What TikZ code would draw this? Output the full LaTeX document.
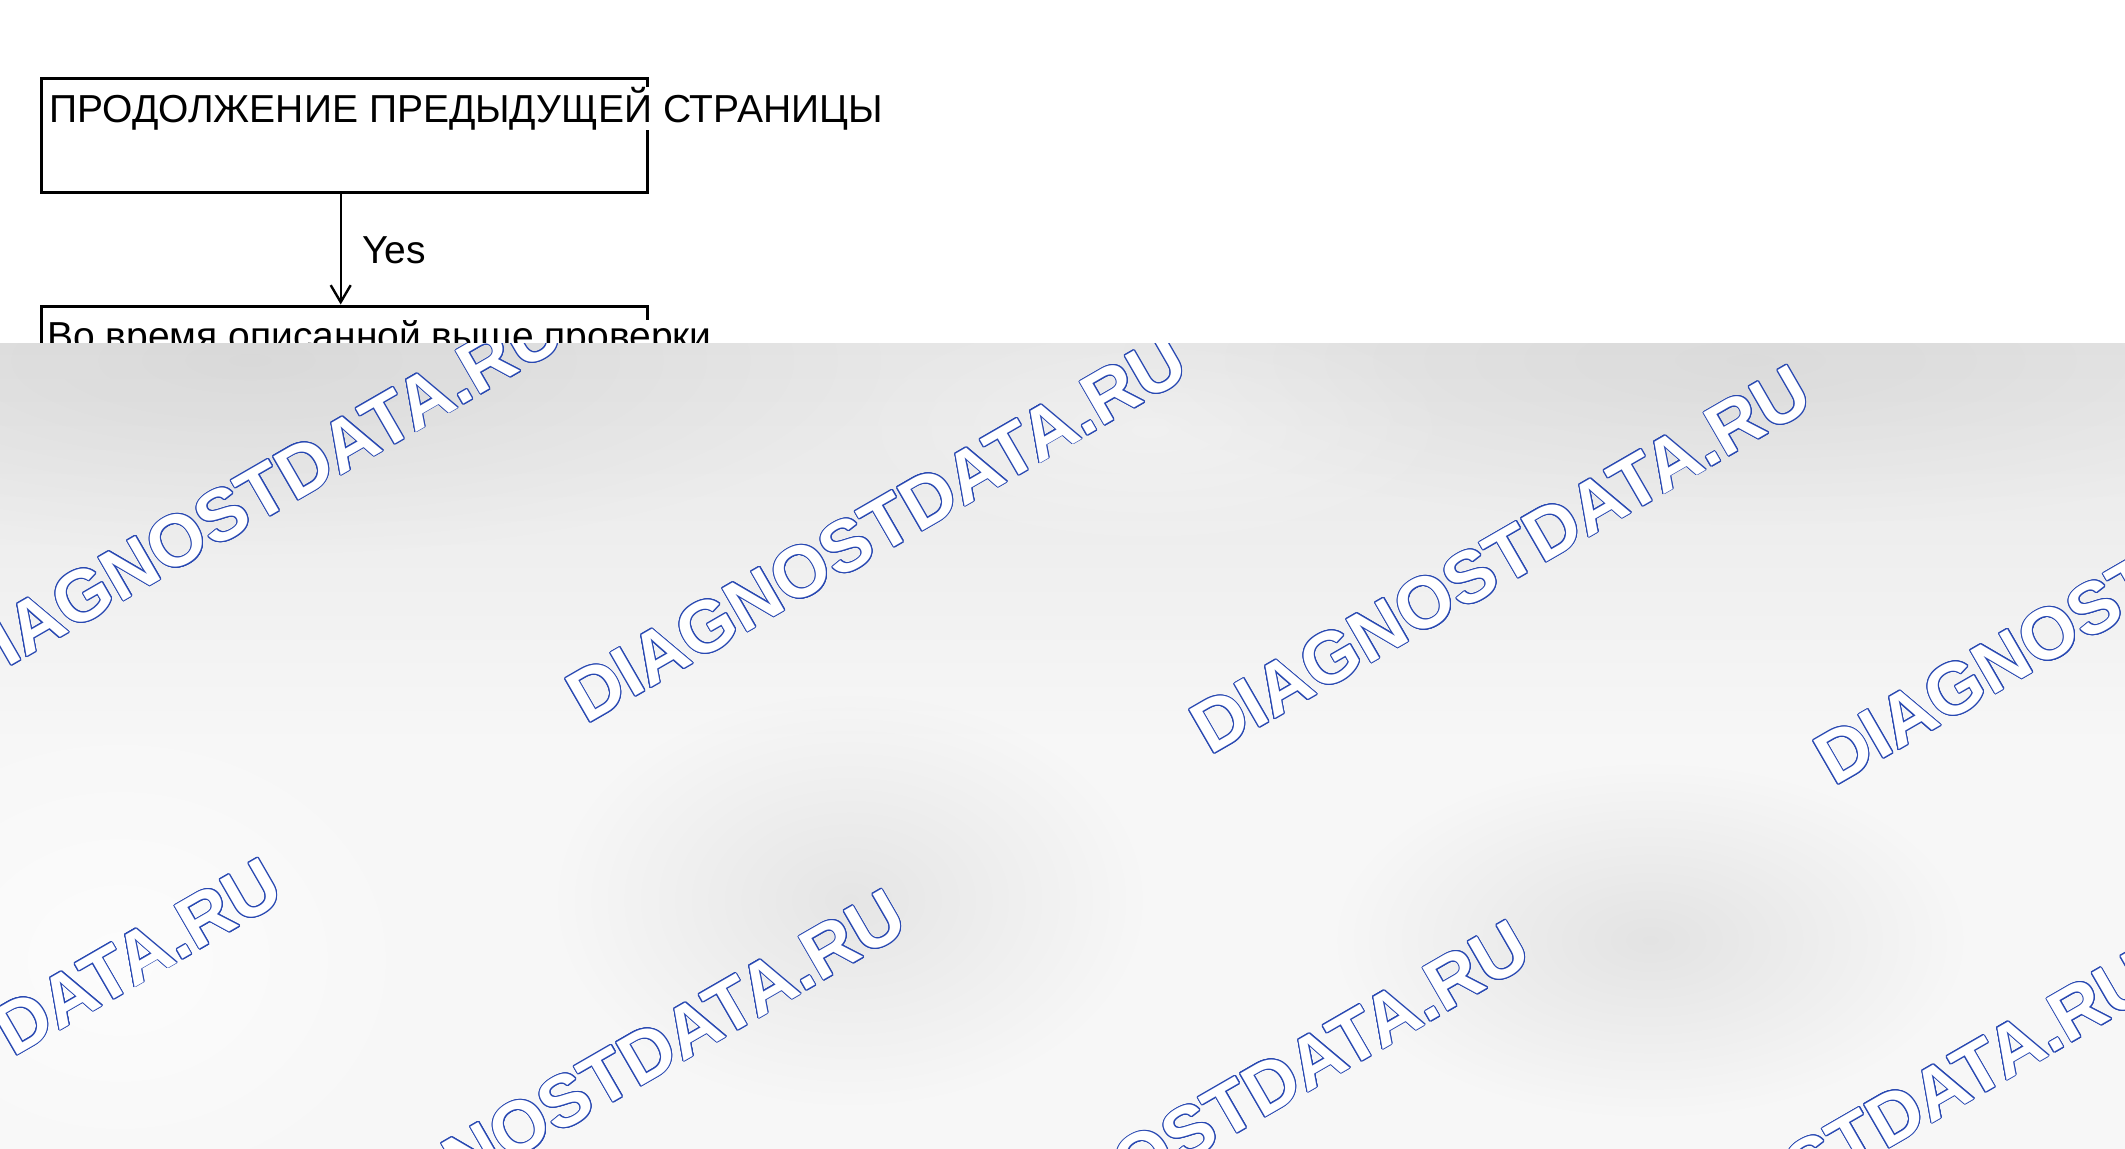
\documentclass[tikz,border=0pt]{standalone}
\usepackage{fontspec}
\setmainfont{Liberation Sans}
\usetikzlibrary{arrows.meta,fadings}
\definecolor{wmblue}{RGB}{40,72,178}
\definecolor{bgtop}{RGB}{213,213,213}
\definecolor{bgmid}{RGB}{228,228,228}
\definecolor{bgbot}{RGB}{247,247,247}
\pgfdeclareverticalshading{bgshade}{100bp}{color(0bp)=(bgbot); color(50bp)=(bgbot); color(78bp)=(bgmid); color(100bp)=(bgtop)}
\tikzfading[name=softblob, inner color=transparent!0, outer color=transparent!100]
\newcommand\wmark[2]{%
  \foreach \a in {0,22.5,...,337.5}
    \node[wmst, text=wmblue, shift={(\a:1.0)}] at (#1,#2) {DIAGNOSTDATA.RU};
  \node[wmst, text=white] at (#1,#2) {DIAGNOSTDATA.RU};
}
\begin{document}
\begin{tikzpicture}[x=0.5pt,y=-0.5pt,
  boxst/.style={draw=black, line width=1.5pt, inner sep=0pt},
  txtst/.style={anchor=base west, inner sep=0pt, fill=white, font=\fontsize{19.5pt}{23pt}\selectfont},
  wmst/.style={anchor=base west, rotate=30, inner sep=0pt, font=\fontsize{36.3pt}{37pt}\selectfont\bfseries},
  arr/.style={line width=1.2pt, -{Straight Barb[length=8.5pt,width=10pt,line width=1.2pt]}}]
\useasboundingbox (0,0) rectangle (2125,1148);
\fill[white] (0,0) rectangle (2125,1148);
% boxes
\node[boxst, minimum width=302.9pt, minimum height=57.35pt] (b1) at (344.6,135.35) {};
\node[boxst, minimum width=302.9pt, minimum height=97pt] (b2) at (344.6,403) {};
\coordinate (ax) at (340.7,0);
\draw[arr] (b1.south -| ax) -- (b2.north -| ax);
\node[txtst] (t1) at (49,122) {ПРОДОЛЖЕНИЕ ПРЕДЫДУЩЕЙ СТРАНИЦЫ};
\node[txtst, fill=none] (yes) at (362,263) {Yes};
\node[txtst] (t2) at (47,349) {Во время описанной выше проверки};
% gray panel
\shade[shading=bgshade] (0,343.5) rectangle (2125,1148);
\begin{scope}
\clip (0,343.5) rectangle (2125,1148);
\fill[black, opacity=0.06, path fading=softblob] (250,360) ellipse (650 and 200);
\fill[black, opacity=0.05, path fading=softblob] (1750,360) ellipse (650 and 170);
\fill[white, opacity=0.3, path fading=softblob] (1150,430) ellipse (320 and 130);
\fill[black, opacity=0.07, path fading=softblob] (850,900) ellipse (300 and 210);
\fill[black, opacity=0.08, path fading=softblob] (1650,940) ellipse (320 and 180);
\fill[white, opacity=0.7, path fading=softblob] (120,960) ellipse (320 and 260);
\wmark{-38}{694}
\wmark{586}{725}
\wmark{1210}{756}
\wmark{1834}{787}
\wmark{-319}{1249}
\wmark{305}{1280}
\wmark{929}{1311}
\wmark{1553}{1342}
\end{scope}
\end{tikzpicture}
\end{document}
